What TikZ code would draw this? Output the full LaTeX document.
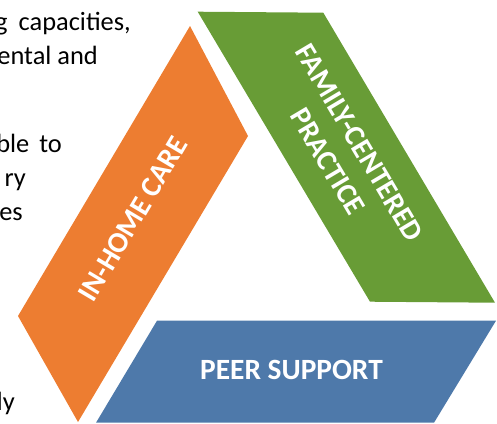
\documentclass[tikz,border=0pt]{standalone}
\usepackage{fontspec}
\setmainfont{Carlito}
\usetikzlibrary{calc}
\definecolor{homeorange}{HTML}{ED7D31}
\definecolor{familygreen}{HTML}{689C36}
\definecolor{peerblue}{HTML}{4E79AA}

\begin{document}
\begin{tikzpicture}[x=1bp, y=-1bp,
    bodytext/.style={anchor=base east, inner sep=0pt, text=black, font=\fontsize{26.5}{30}\selectfont},
    bandtext/.style={text=white, align=center, inner sep=0pt, font=\fontsize{29.5}{37}\selectfont\bfseries}]
    \useasboundingbox (0,0) rectangle (497,423);
    \clip (0,0) rectangle (497,423);

    \coordinate (ot) at (190,26);
    \coordinate (or) at (248,136);
    \coordinate (ob) at (78,422);
    \coordinate (ol) at (18,316);

    \coordinate (gtl) at (197.7,11.7);
    \coordinate (gtr) at (323.3,12.7);
    \coordinate (gbr) at (495,302.7);
    \coordinate (gbl) at (370,301.7);

    \coordinate (btl) at (157,320.7);
    \coordinate (btr) at (496,320.7);
    \coordinate (bbr) at (434,422.7);
    \coordinate (bbl) at (96,422.7);

    \fill [homeorange] (ot) -- (or) -- (ob) -- (ol) -- cycle;
    \fill [familygreen] (gtl) -- (gtr) -- (gbr) -- (gbl) -- cycle;
    \fill [peerblue] (btl) -- (btr) -- (bbr) -- (bbl) -- cycle;

    \node (home) [bandtext, rotate=59.3] at ($(ot)!0.5!(ob)+(-1,-5)$) {IN-HOME CARE};
    \node (family) [bandtext, rotate=-59.3] at ($(gtl)!0.5!(gbr)+(-3,-5)$) {FAMILY-CENTERED\\PRACTICE};
    \node (peer) [bandtext] at ($(btl)!0.5!(bbr)+(-4,-2)$) {PEER SUPPORT};

    \node (txta) [bodytext] at (131,30.5) {g\hspace{0.2em} capacities,};
    \node (txtb) [bodytext] at (98,64) {ental and};
    \node (txtc) [bodytext] at (62,152) {ble\hspace{0.15em} to};
    \node (txtd) [bodytext] at (26,186) {ry};
    \node (txte) [bodytext] at (23,220) {es};
    \node (txtf) [bodytext] at (15,410) {dy};
\end{tikzpicture}
\end{document}
